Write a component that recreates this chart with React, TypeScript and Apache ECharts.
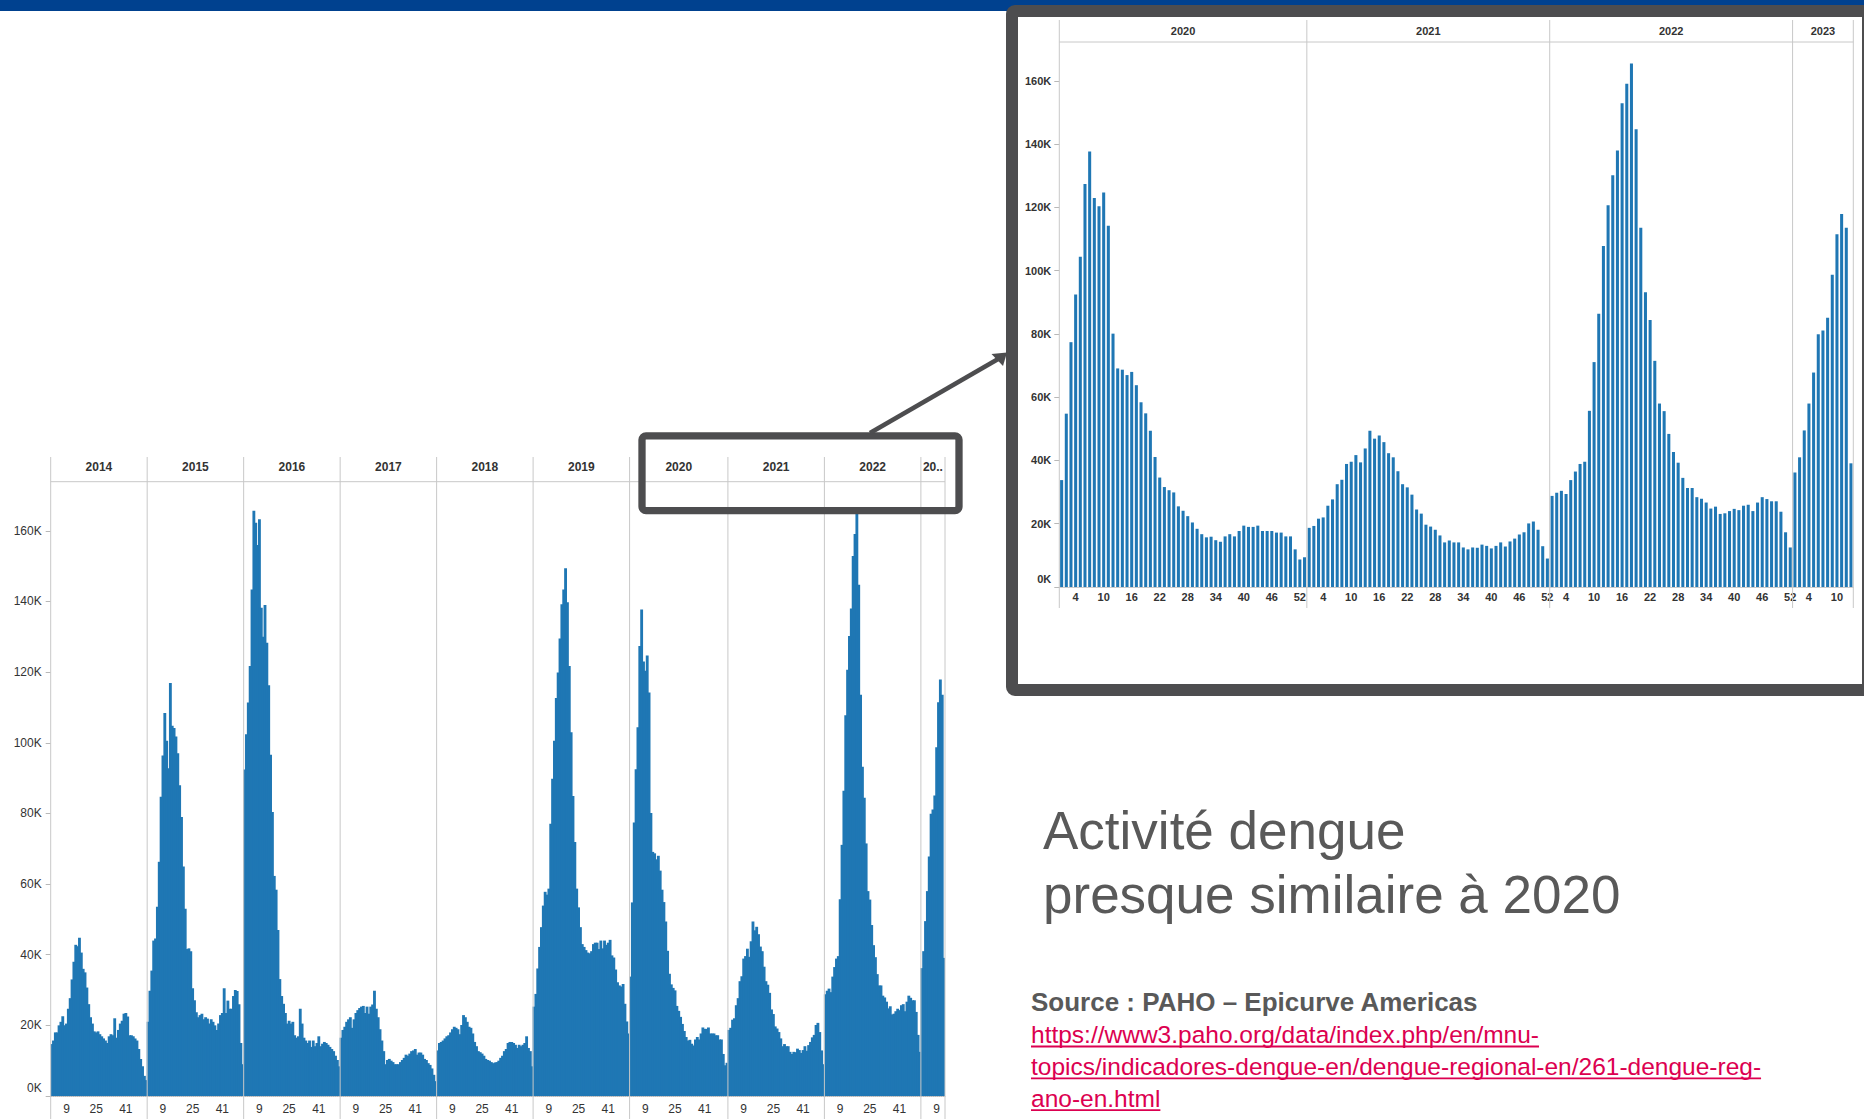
import React, { useEffect, useRef } from 'react';
import * as echarts from 'echarts';

// ---------- data (weekly dengue cases, thousands) ----------
const YEARS = ['2014', '2015', '2016', '2017', '2018', '2019', '2020', '2021', '2022', '2023'];
const MAIN_HEADER_LABELS = ['2014', '2015', '2016', '2017', '2018', '2019', '2020', '2021', '2022', '20..'];

const W2014 = [14.7, 15.7, 18, 18, 20, 21, 22.6, 20, 20.5, 24.7, 27.7, 33, 38, 42.8, 42.4, 44.8, 40.6, 36, 35, 30.7, 26, 22.3, 20.5, 18.3, 18, 18.3, 17.5, 16.9, 16.3, 15.7, 15, 16.9, 17.5, 17.2, 22, 16.5, 18.7, 20.5, 21.3, 23.3, 23.5, 22.5, 17.2, 17.2, 16.9, 16.3, 15.7, 13.3, 10.5, 8.4, 5.7, 4.5];
const W2015 = [21, 29.8, 35.5, 44, 44.6, 53.6, 66.3, 84.7, 96.4, 108.4, 100.6, 92.8, 116.9, 104.8, 104.2, 101.8, 97, 88, 79, 65, 53, 41.6, 41.8, 41, 30.5, 27.1, 23.7, 22.3, 22.9, 23.3, 21.7, 22.3, 21.9, 20.5, 21.7, 21, 20, 18.7, 20.5, 22.9, 23.5, 30.5, 23.5, 27, 24.7, 24.7, 28.3, 30, 29.7, 26, 15, 9];
const W2016 = [92.4, 102.4, 111.4, 121.7, 143.4, 165.7, 162.3, 156, 163.3, 138.2, 130, 139, 128.3, 116.3, 96.6, 80.4, 62.3, 58.4, 47, 33.1, 28.3, 26.1, 23.5, 20.5, 21.3, 20.5, 21, 17.2, 16.5, 16.9, 24.7, 20.5, 16.5, 15.7, 15, 15.7, 13.9, 15.7, 14.1, 15, 16.9, 14.1, 14.8, 15.3, 15, 14.5, 13.9, 13.3, 12.7, 11.4, 10.2, 8.4];
const W2017 = [16.5, 18.7, 19.6, 21, 21.7, 22.3, 19.3, 21.7, 23.5, 24.3, 24.9, 25.3, 25.5, 23.5, 25.3, 23.3, 25.3, 25.9, 29.8, 24.7, 22.3, 18.9, 15.7, 12.7, 9, 10.2, 10.5, 10, 9.6, 9, 9, 9, 9.6, 10.2, 10.8, 11.7, 11.4, 12, 12.7, 12.9, 13.3, 11.7, 12.3, 12.3, 11.7, 10.5, 10.2, 9.3, 8.8, 7.8, 6, 4.2];
const W2018 = [12.9, 15, 15.3, 15.7, 16.3, 16.9, 17.2, 18, 18.9, 19.6, 19.3, 18.9, 17.5, 20.1, 22.9, 22.3, 21, 19.6, 19.3, 17.7, 15.3, 14.1, 12.7, 12.4, 12, 11.4, 10.5, 10.2, 10, 9.6, 9.3, 9.5, 9.6, 10, 10.8, 11.4, 12.7, 13.3, 15, 15.3, 15.3, 15, 14.5, 13.6, 14.5, 14.1, 14.5, 15, 16.9, 13.6, 12.7, 8.4];
const W2019 = [25.3, 28.9, 36.1, 42.2, 47.8, 53.9, 57.8, 57, 58.7, 77.1, 89.8, 100.6, 112.7, 119.9, 129.5, 139.2, 143.4, 149.4, 139.8, 121.7, 103, 84.9, 71.9, 58.7, 53.4, 47.8, 43, 42.2, 41.3, 40.6, 40.4, 41, 43, 43.4, 43.4, 41.6, 44, 41.8, 44, 42.8, 43.4, 44.2, 39.8, 39.2, 35.8, 32.2, 31.3, 31, 31.7, 26.1, 21.1, 17.7];
const W2020 = [33.8, 54.8, 77.4, 92.5, 104.4, 127.4, 137.7, 123, 120.4, 124.7, 114.2, 80.1, 69.1, 68.7, 67, 68, 63.8, 58.4, 54.9, 49.4, 41.1, 34.6, 31.6, 30.6, 29.9, 25.5, 24.1, 22.4, 20.4, 18.4, 16.7, 15.7, 15.9, 14.8, 14.3, 16, 16.7, 16, 17.7, 19.4, 19, 19, 19.4, 17.7, 17.7, 17.7, 17.2, 17.2, 16, 16, 11.9, 8.7, 9.4];
const W2021 = [18.7, 19.3, 21.6, 22, 25.7, 27.7, 32.5, 33.9, 38.9, 39.6, 41.7, 39.4, 43.8, 49.4, 46.9, 47.9, 45.8, 42.3, 41, 36.6, 32.5, 31.5, 29.2, 24.5, 23.2, 19.7, 19.1, 18.1, 16.3, 14.1, 14.7, 14.1, 14.1, 12.5, 11.9, 12.5, 12.4, 13.4, 13, 12.2, 13, 14.1, 12.8, 14.4, 15.3, 16.6, 17.3, 20.1, 20.7, 18.1, 12.9, 9];
const W2022 = [28.8, 29.8, 30.4, 29.4, 33.8, 36.5, 38.9, 39.6, 55.7, 71.1, 86.4, 107.8, 120.7, 130.2, 138, 152.9, 159.1, 165.5, 144.7, 113.6, 93.2, 84.4, 71.5, 58, 55.6, 48.4, 42.7, 39.3, 34.5, 31.3, 31.3, 28.4, 27.9, 26.7, 24.8, 25.4, 23.1, 23.3, 24, 24.7, 24.3, 25.7, 26, 24, 26.7, 28.4, 27.8, 27.1, 27.1, 23.8, 17.3, 12.5];
const W2023 = [36.2, 41, 49.5, 58, 67.8, 79.9, 81.1, 85.1, 98.7, 111.5, 117.9, 113.6, 39.1];
const WEEKLY = [W2014, W2015, W2016, W2017, W2018, W2019, W2020, W2021, W2022, W2023];

const MAIN_YEAR_INDEXES = [0, 1, 2, 3, 4, 5, 6, 7, 8, 9];
const INSET_YEAR_INDEXES = [6, 7, 8, 9];
const Y_TICKS = [0, 20, 40, 60, 80, 100, 120, 140, 160];
const MAIN_WEEK_LABELS = [9, 25, 41];
const INSET_WEEK_LABELS = [4, 10, 16, 22, 28, 34, 40, 46, 52];

const TITLE_LINES = ['Activité dengue', 'presque similaire à 2020'];
const SOURCE_TEXT = 'Source : PAHO – Epicurve Americas';
const LINK_LINES = [
  'https://www3.paho.org/data/index.php/en/mnu-',
  'topics/indicadores-dengue-en/dengue-regional-en/261-dengue-reg-',
  'ano-en.html',
];

// ---------- styles / layout ----------
const FONT = "'Liberation Sans', Arial, Helvetica, sans-serif";
const BAR_COLOR = '#1f77b4';
const SEP_COLOR = '#c8c8c8';
const FRAME_COLOR = '#4d4d4f';
const TEXT_GREY = '#595959';
const LINK_COLOR = '#dc0050';

const MAIN_GEO = { left: 50.7, right: 945, top: 457, headerBottom: 481.7, base: 1096, bottom: 1119, max: 173.9, headerY: 467 };
const INSET_GEO = { left: 1059.3, right: 1853.3, top: 20, headerBottom: 42, base: 587, bottom: 608, max: 172.3, headerY: 30.5 };

const MAIN_STYLE = { fontSize: 12, weight: 'normal', headerSize: 12, xMargin: 7, yMargin: 9, gap: '0%', axisType: 'dotted', axisColor: '#b8b8b8', weekLabels: MAIN_WEEK_LABELS };
const INSET_STYLE = { fontSize: 11, weight: 'bold', headerSize: 11, xMargin: 4.5, yMargin: 8, gap: '35%', axisType: 'solid', axisColor: '#cccccc', weekLabels: INSET_WEEK_LABELS };

function buildPanel(idx: number, yearIdx: number[], headers: string[], g: any, st: any) {
  const cats: string[] = [];
  const vals: number[] = [];
  const bounds: number[] = [0];
  yearIdx.forEach((yi) => {
    WEEKLY[yi].forEach((v, i) => {
      cats.push(YEARS[yi] + '|' + (i + 1));
      vals.push(v);
    });
    bounds.push(cats.length);
  });
  const n = cats.length;
  const width = g.right - g.left;
  const bw = width / n;

  const grid = {
    left: g.left,
    top: g.headerBottom,
    width,
    height: g.base - g.headerBottom,
    containLabel: false,
    outerBoundsMode: 'none',
  };
  const labelCommon = { fontSize: st.fontSize, fontFamily: FONT, color: '#333333', fontWeight: st.weight };
  const xAxis = {
    type: 'category',
    gridIndex: idx,
    data: cats,
    boundaryGap: true,
    axisLine: { show: true, lineStyle: { color: st.axisColor, type: st.axisType, width: 1 } },
    axisTick: { show: false },
    splitLine: { show: false },
    axisLabel: {
      ...labelCommon,
      margin: st.xMargin,
      interval: (_i: number, v: string) => st.weekLabels.indexOf(Number(String(v).split('|')[1])) >= 0,
      formatter: (v: string) => String(v).split('|')[1],
    },
  };
  const yAxis = {
    type: 'value',
    gridIndex: idx,
    min: 0,
    max: g.max,
    axisLine: { show: false },
    splitLine: { show: false },
    axisTick: { show: true, length: 5, lineStyle: { color: '#b8b8b8' }, customValues: Y_TICKS },
    axisLabel: {
      ...labelCommon,
      margin: st.yMargin,
      customValues: Y_TICKS,
      formatter: (v: number) => (v === 0 ? '{z|0K}' : v + 'K'),
      rich: { z: { ...labelCommon, padding: [0, 0, 16, 0] } },
    },
  };
  const series = {
    type: 'bar',
    xAxisIndex: idx,
    yAxisIndex: idx,
    data: vals,
    barCategoryGap: st.gap,
    ...(st.gap === '0%' ? { barWidth: bw + 1 } : {}),
    itemStyle: { color: BAR_COLOR },
    silent: true,
    z: 2,
  };

  const graphics: any[] = [];
  bounds.forEach((b) => {
    const x = g.left + b * bw;
    graphics.push({ type: 'line', silent: true, z: 10, shape: { x1: x, y1: g.top, x2: x, y2: g.bottom }, style: { stroke: SEP_COLOR, lineWidth: 1 } });
  });
  graphics.push({ type: 'line', silent: true, z: 10, shape: { x1: g.left, y1: g.headerBottom, x2: g.right, y2: g.headerBottom }, style: { stroke: SEP_COLOR, lineWidth: 1 } });
  headers.forEach((h, i) => {
    const cx = g.left + ((bounds[i] + bounds[i + 1]) / 2) * bw;
    graphics.push({
      type: 'text', silent: true, z: 10, x: cx, y: g.headerY,
      style: { text: h, fontSize: st.headerSize, fontWeight: 'bold', fontFamily: FONT, fill: '#333333', align: 'center', verticalAlign: 'middle', textAlign: 'center', textVerticalAlign: 'middle' },
    });
  });
  return { grid, xAxis, yAxis, series, graphics };
}

function measure(text: string, font: string) {
  const c = document.createElement('canvas');
  const ctx = c.getContext('2d');
  if (!ctx) return text.length * 12;
  ctx.font = font;
  return ctx.measureText(text).width;
}

const App = () => {
  const ref = useRef<HTMLDivElement>(null);
  useEffect(() => {
    document.body.style.margin = '0';
    if (!ref.current) return;
    const chart = echarts.init(ref.current, null, { renderer: 'svg', width: 1864, height: 1119 });

    const main = buildPanel(0, MAIN_YEAR_INDEXES, MAIN_HEADER_LABELS, MAIN_GEO, MAIN_STYLE);
    const inset = buildPanel(1, INSET_YEAR_INDEXES, INSET_YEAR_INDEXES.map((i) => YEARS[i]), INSET_GEO, INSET_STYLE);

    const deco: any[] = [];
    // top blue band
    deco.push({ type: 'rect', silent: true, z: 0, shape: { x: 0, y: 0, width: 1864, height: 11 }, style: { fill: '#00418f' } });
    // inset frame
    deco.push({ type: 'rect', silent: true, z: 30, shape: { x: 1012, y: 11, width: 856, height: 679, r: 3 }, style: { fill: 'none', stroke: FRAME_COLOR, lineWidth: 12 } });
    // highlight box on main chart
    deco.push({ type: 'rect', silent: true, z: 30, shape: { x: 642, y: 435.8, width: 317, height: 74.8, r: 4 }, style: { fill: 'none', stroke: FRAME_COLOR, lineWidth: 7.3 } });
    // arrow
    deco.push({ type: 'line', silent: true, z: 30, shape: { x1: 870, y1: 433, x2: 999, y2: 358.5 }, style: { stroke: FRAME_COLOR, lineWidth: 4.5 } });
    deco.push({ type: 'polygon', silent: true, z: 30, shape: { points: [[1007, 352.5], [991.5, 354], [1003, 366]] }, style: { fill: FRAME_COLOR } });

    // title text
    const titleSize = 53;
    TITLE_LINES.forEach((t, i) => {
      deco.push({
        type: 'text', silent: true, z: 30, x: 1043, y: 849 + i * 64.3 - 0.347 * titleSize,
        style: { text: t, fontSize: titleSize, fontFamily: FONT, fill: TEXT_GREY, align: 'left', verticalAlign: 'middle', textAlign: 'left', textVerticalAlign: 'middle' },
      });
    });
    // source
    const srcSize = 26;
    deco.push({
      type: 'text', silent: true, z: 30, x: 1031, y: 1011.5 - 0.347 * srcSize,
      style: { text: SOURCE_TEXT, fontSize: srcSize, fontWeight: 'bold', fontFamily: FONT, fill: TEXT_GREY, align: 'left', verticalAlign: 'middle', textAlign: 'left', textVerticalAlign: 'middle' },
    });
    // link lines
    const linkSize = 24.5;
    LINK_LINES.forEach((t, i) => {
      const baseline = 1043 + i * 31.8;
      deco.push({
        type: 'text', silent: true, z: 30, x: 1031, y: baseline - 0.347 * linkSize,
        style: { text: t, fontSize: linkSize, fontFamily: FONT, fill: LINK_COLOR, align: 'left', verticalAlign: 'middle', textAlign: 'left', textVerticalAlign: 'middle' },
      });
      const w = measure(t, `${linkSize}px 'Liberation Sans', Arial, sans-serif`);
      deco.push({ type: 'line', silent: true, z: 30, shape: { x1: 1031, y1: baseline + 3.5, x2: 1031 + w, y2: baseline + 3.5 }, style: { stroke: LINK_COLOR, lineWidth: 1.8 } });
    });

    const option: any = {
      animation: false,
      backgroundColor: '#ffffff',
      textStyle: { fontFamily: FONT },
      grid: [main.grid, inset.grid],
      xAxis: [main.xAxis, inset.xAxis],
      yAxis: [main.yAxis, inset.yAxis],
      series: [main.series, inset.series],
      graphic: { elements: [...main.graphics, ...inset.graphics, ...deco] },
    };
    chart.setOption(option);
    return () => chart.dispose();
  }, []);
  return <div ref={ref} style={{ width: 1864, height: 1119 }} />;
};

export default App;
